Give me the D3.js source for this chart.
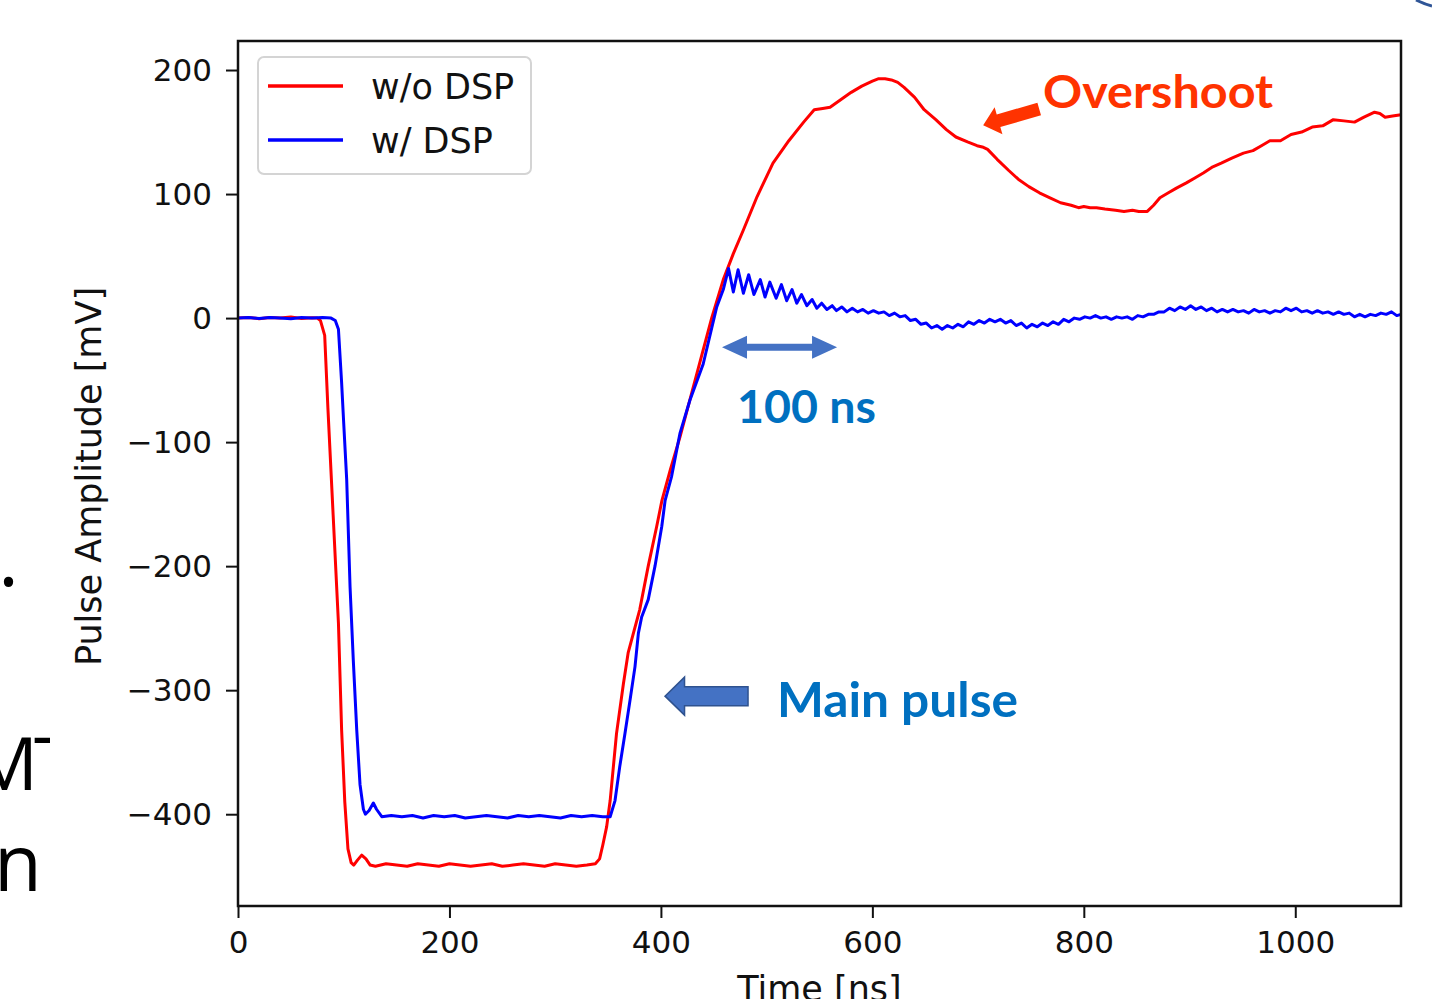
<!DOCTYPE html>
<html>
<head>
<meta charset="utf-8">
<script src="https://cdn.jsdelivr.net/npm/d3@7/dist/d3.min.js"></script>
<style>
  html, body { margin: 0; padding: 0; background: #fff; }
  svg { display: block; }
</style>
</head>
<body>
<div id="chart"></div>
<script>
// time axis [ns]
var xTicks = [0, 200, 400, 600, 800, 1000];
var yTicks = [-400, -300, -200, -100, 0, 100, 200];
var yTickLabels = ['\u2212400', '\u2212300', '\u2212200', '\u2212100', '0', '100', '200'];
var seriesNames = ['w/o DSP', 'w/ DSP'];

// w/o DSP (red)
var timeRed = [0, 10, 20, 30, 40, 50, 60, 70, 75, 78,
  82, 85, 90, 95, 98, 101, 104, 107, 109.5, 113,
  117, 121, 125, 130, 140, 150, 160, 170, 180, 190,
  200, 210, 220, 230, 240, 250, 260, 270, 280, 290,
  300, 310, 320, 330, 338, 342, 345, 348.7, 352, 358,
  364.5, 369, 374, 380, 388, 396, 401, 409, 418, 433,
  448, 459, 468.5, 478, 491, 506, 521, 535, 545, 553,
  560, 570, 580, 590, 600, 606, 612, 618, 624, 630,
  640, 649, 660, 670, 679, 690, 699, 704, 709, 718,
  729, 738, 748, 758, 768, 778, 788, 795, 800, 806,
  812, 820, 830, 838, 846, 852, 860, 866, 872, 880,
  888, 897, 905, 913, 922, 930, 940, 951, 960, 968,
  976, 986, 996, 1006, 1016, 1026, 1036, 1046, 1056, 1065,
  1075, 1080, 1085, 1092, 1100];
var ampRed = [0, 0.5, -0.5, 0.5, 0, 0.8, -0.4, 0.3, 0, -2,
  -14, -72, -159, -246, -332, -390, -428, -439, -441, -437,
  -433, -436, -441, -442, -440, -441, -442, -440, -441, -442,
  -440, -441, -442, -441, -440, -442, -441, -440, -441, -442,
  -440, -441, -442, -441, -440, -436, -425, -410, -389, -335,
  -295, -270, -254, -235, -200, -168, -147, -122, -96, -48,
  0, 31, 52, 71, 98, 125, 143, 158, 168, 169,
  170, 176, 182, 187, 191, 193, 193, 192, 190, 186,
  178, 168, 160, 152, 146, 142, 139, 138, 136, 128,
  119, 112, 106, 101, 97, 93, 91, 89, 90, 89,
  89, 88, 87, 86, 87, 86, 86, 91, 97, 101,
  105, 109, 113, 117, 122, 125, 129, 133, 135, 139,
  143, 143, 148, 150, 154, 155, 160, 159, 158, 162,
  166, 165, 162, 163, 164];

// w/ DSP (blue)
var timeBlue = [0, 10, 20, 30, 40, 50, 60, 70, 80, 88,
  92, 95, 98, 100, 102.8, 106, 109, 112.3, 115.4, 118.6,
  120.5, 124, 128, 131, 136, 145, 155, 165, 175, 185,
  195, 205, 215, 225, 235, 245, 255, 265, 275, 285,
  295, 305, 315, 325, 335, 345, 352, 356.6, 361, 366,
  370.8, 375.5, 378.7, 381.8, 388, 394.4, 400.8, 404, 410, 418,
  427.5, 440, 452.8, 459, 464, 468.5, 473, 478, 483, 488,
  494, 498.5, 503, 509, 514, 519, 524, 528.5, 533, 538,
  543, 547.5, 552, 557, 562, 566, 571, 576, 581, 586,
  591, 596, 601, 606, 611, 616, 621, 626, 631, 636,
  641, 646, 651, 656, 661, 666, 671, 676, 681, 686,
  691, 696, 701, 706, 711, 716, 721, 726, 731, 736,
  741, 746, 751, 756, 761, 766, 771, 776, 781, 786,
  791, 796, 801, 806, 811, 816, 821, 826, 831, 836,
  841, 846, 851, 856, 861, 866, 871, 876, 881, 886,
  891, 896, 901, 906, 911, 916, 921, 926, 931, 936,
  941, 946, 951, 956, 961, 966, 971, 976, 981, 986,
  991, 996, 1001, 1006, 1011, 1016, 1021, 1026, 1031, 1036,
  1041, 1046, 1051, 1056, 1061, 1066, 1071, 1076, 1081, 1086,
  1091, 1096, 1100];
var ampBlue = [0, 0.4, -0.4, 0.5, 0, -0.5, 0.4, 0, 0.5, 0,
  -2, -9, -52, -85, -130, -217, -275, -332, -376, -396,
  -400, -397, -391, -396, -402, -401, -402, -401, -403, -401,
  -402, -401, -403, -402, -401, -402, -403, -401, -402, -401,
  -402, -403, -401, -402, -401, -402, -402, -389, -362, -335,
  -308, -281, -254, -241, -227, -200, -168, -147, -128, -93,
  -66, -37, 9, 23, 40, 21, 39, 20, 35, 19,
  31, 17, 29, 16, 27, 14, 23, 12, 19, 10,
  15, 8, 12, 7, 10, 6, 9, 5, 8, 5,
  7, 4, 6, 4, 5, 2, 4, 1, 2, -2,
  -1, -5, -4, -8, -6, -9, -6, -8, -5, -7,
  -3, -5, -2, -4, -1, -3, -1, -4, -2, -6,
  -4, -8, -5, -7, -4, -6, -3, -5, -1, -3,
  0, -1, 1, 0, 2, 0, 1, -1, 1, 0,
  1, -1, 2, 1, 3, 3, 5, 5, 8, 6,
  9, 7, 10, 7, 9, 6, 8, 5, 7, 5,
  7, 5, 6, 4, 7, 5, 6, 4, 6, 5,
  8, 6, 8, 5, 6, 4, 6, 4, 5, 3,
  5, 3, 4, 1, 3, 1, 3, 2, 4, 3,
  5, 2, 3];

var W = 1432, H = 999;
var plot = { left: 238, right: 1401, top: 41, bottom: 906 };

var svg = d3.select('#chart').append('svg')
  .attr('width', W).attr('height', H);

// slide text behind the chart picture (cut at the left edge)
var clip = svg.append('defs').append('clipPath').attr('id', 'slideclip');
clip.append('rect').attr('x', 0).attr('y', 0).attr('width', 50).attr('height', H);
var slide = svg.append('g').attr('clip-path', 'url(#slideclip)')
  .style('font-family', '"Open Sans", "Liberation Sans", sans-serif')
  .attr('fill', '#000');
slide.append('text').attr('x', -2).attr('y', 586).style('font-size', '80px').text('.');
slide.append('text').attr('x', 38).attr('y', 790).attr('text-anchor', 'end').style('font-size', '74px').text('M');
slide.append('text').attr('x', 34).attr('y', 790).style('font-size', '74px').text('T');
slide.append('text').attr('x', -6).attr('y', 891).style('font-size', '78px').text('n');

// corner arc
svg.append('path')
  .attr('d', 'M1416,0 Q1424,4 1432,6')
  .attr('fill', 'none').attr('stroke', '#2F5597').attr('stroke-width', 3);

var x = d3.scaleLinear().domain([0, 1100]).range([plot.left, plot.right]);
var y = d3.scaleLinear().domain([-474, 223.4]).range([plot.bottom, plot.top]);

var tickFont = '"DejaVu Sans", sans-serif';

// x axis
var xAxis = svg.append('g')
  .attr('transform', 'translate(0,' + plot.bottom + ')')
  .call(d3.axisBottom(x).tickValues(xTicks).tickSize(12).tickPadding(13).tickFormat(d3.format('d')));
xAxis.select('.domain').remove();
xAxis.selectAll('line').attr('stroke', '#111').attr('stroke-width', 2);
xAxis.selectAll('text').attr('fill', '#111')
  .style('font-family', tickFont).style('font-size', '31px');

// y axis
var yAxis = svg.append('g')
  .attr('transform', 'translate(' + plot.left + ',0)')
  .call(d3.axisLeft(y).tickValues(yTicks).tickSize(12).tickPadding(14)
    .tickFormat(function(d, i) { return yTickLabels[i]; }));
yAxis.select('.domain').remove();
yAxis.selectAll('line').attr('stroke', '#111').attr('stroke-width', 2);
yAxis.selectAll('text').attr('fill', '#111').attr('dy', '0.34em')
  .style('font-family', tickFont).style('font-size', '31px');

// axis titles
svg.append('text')
  .attr('transform', 'translate(101,' + ((plot.top + plot.bottom) / 2 + 3) + ') rotate(-90)')
  .attr('text-anchor', 'middle').attr('fill', '#111')
  .style('font-family', tickFont).style('font-size', '35px')
  .text('Pulse Amplitude [mV]');
svg.append('text')
  .attr('x', (plot.left + plot.right) / 2).attr('y', 1001)
  .attr('text-anchor', 'middle').attr('fill', '#111')
  .style('font-family', tickFont).style('font-size', '35px')
  .text('Time [ns]');

// curves
var line = d3.line()
  .x(function(d) { return x(d[0]); })
  .y(function(d) { return y(d[1]); });

svg.append('path')
  .datum(d3.zip(timeRed, ampRed))
  .attr('d', line)
  .attr('fill', 'none').attr('stroke', '#ff0000').attr('stroke-width', 3)
  .attr('stroke-linejoin', 'round');
svg.append('path')
  .datum(d3.zip(timeBlue, ampBlue))
  .attr('d', line)
  .attr('fill', 'none').attr('stroke', '#0000ff').attr('stroke-width', 3)
  .attr('stroke-linejoin', 'round');

// frame
svg.append('rect')
  .attr('x', plot.left).attr('y', plot.top)
  .attr('width', plot.right - plot.left).attr('height', plot.bottom - plot.top)
  .attr('fill', 'none').attr('stroke', '#111').attr('stroke-width', 2.5);

// legend
var legendColors = ['#ff0000', '#0000ff'];
var legend = svg.append('g');
legend.append('rect')
  .attr('x', 258).attr('y', 57).attr('width', 273).attr('height', 117).attr('rx', 6)
  .attr('fill', '#fff').attr('fill-opacity', 0.9)
  .attr('stroke', '#d4d4d4').attr('stroke-width', 2);
seriesNames.forEach(function(name, i) {
  var ly = 86 + i * 54;
  legend.append('line')
    .attr('x1', 268).attr('x2', 343).attr('y1', ly).attr('y2', ly)
    .attr('stroke', legendColors[i]).attr('stroke-width', 3.5);
  legend.append('text')
    .attr('x', 371).attr('y', ly + 13)
    .attr('fill', '#111')
    .style('font-family', tickFont).style('font-size', '35px')
    .text(name);
});

// block arrow from tail (x0,y0) to tip (x1,y1)
function blockArrow(x0, y0, x1, y1, shaftW, headW, headL) {
  var dx = x1 - x0, dy = y1 - y0, len = Math.sqrt(dx * dx + dy * dy);
  var ux = dx / len, uy = dy / len, nx = -uy, ny = ux;
  var bx = x1 - ux * headL, by = y1 - uy * headL;
  var s = shaftW / 2, h = headW / 2;
  return [
    [x0 + nx * s, y0 + ny * s], [bx + nx * s, by + ny * s], [bx + nx * h, by + ny * h],
    [x1, y1],
    [bx - nx * h, by - ny * h], [bx - nx * s, by - ny * s], [x0 - nx * s, y0 - ny * s]
  ];
}
function doubleArrow(xa, xb, yc, shaftW, headW, headL) {
  var s = shaftW / 2, h = headW / 2;
  return [
    [xa, yc], [xa + headL, yc - h], [xa + headL, yc - s], [xb - headL, yc - s], [xb - headL, yc - h],
    [xb, yc], [xb - headL, yc + h], [xb - headL, yc + s], [xa + headL, yc + s], [xa + headL, yc + h]
  ];
}
var toPath = function(pts) { return 'M' + pts.map(function(p) { return p.join(','); }).join('L') + 'Z'; };

var annFont = 'Lato, "Open Sans", sans-serif';

// overshoot
svg.append('path')
  .attr('d', toPath(blockArrow(x(757.8), y(168.6), x(704.8), y(155.5), 13, 28, 16)))
  .attr('fill', '#ff3300');
svg.append('text')
  .attr('x', x(761.5)).attr('y', y(169.4))
  .attr('fill', '#ff3300')
  .attr('textLength', 230).attr('lengthAdjust', 'spacingAndGlyphs')
  .style('font-family', annFont).style('font-weight', 'bold').style('font-size', '45px')
  .text('Overshoot');

// 100 ns span
svg.append('path')
  .attr('d', toPath(doubleArrow(x(457.8), x(566.6), y(-23.6), 7, 23, 25)))
  .attr('fill', '#4472c4');
svg.append('text')
  .attr('x', x(472)).attr('y', y(-84.4))
  .attr('fill', '#0070c0')
  .attr('textLength', 139).attr('lengthAdjust', 'spacingAndGlyphs')
  .style('font-family', annFont).style('font-weight', 'bold').style('font-size', '46px')
  .text('100 ns');

// main pulse
svg.append('path')
  .attr('d', toPath(blockArrow(x(482.4), y(-304.8), x(403.9), y(-304.8), 19, 38, 19.5)))
  .attr('fill', '#4472c4').attr('stroke', '#2f528f').attr('stroke-width', 1.5);
svg.append('text')
  .attr('x', x(509.8)).attr('y', y(-321.8))
  .attr('fill', '#0070c0')
  .attr('textLength', 241).attr('lengthAdjust', 'spacingAndGlyphs')
  .style('font-family', annFont).style('font-weight', 'bold').style('font-size', '47px')
  .text('Main pulse');
</script>
</body>
</html>
